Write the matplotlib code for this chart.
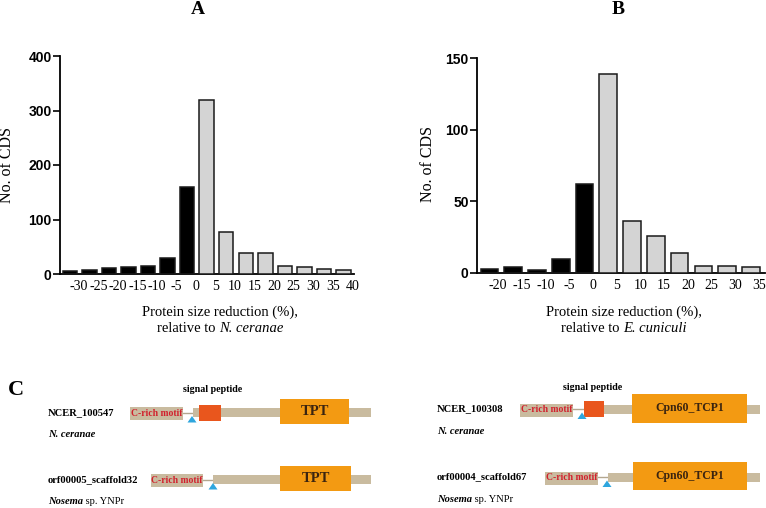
import numpy as np
import matplotlib.pyplot as plt
from matplotlib.patches import Rectangle, Polygon

plt.rcParams['font.family'] = 'Liberation Serif'

# panel A : relative to N. ceranae
labels_a = ['-30', '-25', '-20', '-15', '-10', '-5', '0', '5', '10', '15', '20', '25', '30', '35', '40']
counts_a = [6, 7, 11, 13, 14, 30, 159, 319, 77, 38, 39, 14, 12, 10, 7]
n_black_a = 7

# panel B : relative to E. cuniculi
labels_b = ['-20', '-15', '-10', '-5', '0', '5', '10', '15', '20', '25', '30', '35']
counts_b = [3, 4, 2, 10, 62, 139, 36, 26, 14, 5, 5, 4]
n_black_b = 5

# panel C : protein schematics
prot_ids = ['NCER_100547', 'orf00005_scaffold32', 'NCER_100308', 'orf00004_scaffold67']
prot_species = ['N. ceranae', 'Nosema', 'N. ceranae', 'Nosema']
prot_domain = ['TPT', 'TPT', 'Cpn60_TCP1', 'Cpn60_TCP1']
prot_signal = [True, False, True, False]

W, H = 766, 508
fig = plt.figure(figsize=(W / 100, H / 100), dpi=100)
renderer = fig.canvas.get_renderer()

GRAY = '#d4d4d4'


def px_axes(x0, x1, y_top, y_bot):
    return fig.add_axes([x0 / W, 1 - y_bot / H, (x1 - x0) / W, (y_bot - y_top) / H])


def bar_panel(ax, labels, counts, n_black, xlim, ymax, yticks, off):
    n = len(counts)
    x = np.arange(n)
    colors = ['black'] * n_black + [GRAY] * (n - n_black)
    ax.bar(x, counts, width=0.74, color=colors, edgecolor='#1a1a1a', linewidth=1.1, zorder=3)
    ax.set_xlim(*xlim)
    ax.set_ylim(0, ymax)
    ax.set_yticks(yticks)
    ax.set_xticks(x + off)
    ax.set_xticklabels(labels, fontsize=10)
    for s in ['top', 'right']:
        ax.spines[s].set_visible(False)
    for s in ['left', 'bottom']:
        ax.spines[s].set_linewidth(1.3)
    ax.tick_params(axis='x', length=0, pad=4)
    ax.tick_params(axis='y', length=5, width=1.2, pad=1)
    for t in ax.get_yticklabels():
        t.set_fontfamily('Liberation Sans')
        t.set_fontweight('bold')
        t.set_fontsize(10)
    ax.patch.set_alpha(0)


ax_a = px_axes(60, 354, 56, 274)
bar_panel(ax_a, labels_a, counts_a, n_black_a, (-0.51, 14.54), 400, [0, 100, 200, 300, 400], 0.45)

ax_b = px_axes(477, 765, 58, 273)
bar_panel(ax_b, labels_b, counts_b, n_black_b, (-0.52, 11.59), 150, [0, 50, 100, 150], 0.35)

# overlay in pixel coordinates for texts and panel C
ov = fig.add_axes([0, 0, 1, 1])
ov.set_xlim(0, W)
ov.set_ylim(H, 0)
ov.axis('off')
ov.patch.set_alpha(0)


def text_run(x, y, pieces, fontsize, ha='left'):
    # pieces: list of (string, weight, style), drawn one after the other
    widths = []
    for s, wgt, sty in pieces:
        t = ov.text(0, 0, s, fontsize=fontsize, fontweight=wgt, fontstyle=sty)
        widths.append(t.get_window_extent(renderer=renderer).width)
        t.remove()
    total = sum(widths)
    cx = x - total / 2 if ha == 'center' else x
    for (s, wgt, sty), w in zip(pieces, widths):
        ov.text(cx, y, s, ha='left', va='center', fontsize=fontsize, fontweight=wgt, fontstyle=sty)
        cx += w


ov.text(198, 10, 'A', ha='center', va='center', fontsize=14, fontweight='bold')
ov.text(618, 10, 'B', ha='center', va='center', fontsize=14, fontweight='bold')

ov.text(7, 165, 'No. of CDS', rotation=90, ha='center', va='center', fontsize=11.5)
ov.text(428, 164, 'No. of CDS', rotation=90, ha='center', va='center', fontsize=11.5)

ov.text(220, 312, 'Protein size reduction (%),', ha='center', va='center', fontsize=10.5)
text_run(220, 329, [('relative to ', 'normal', 'normal'), ('N. ceranae', 'normal', 'italic')], 10.5, ha='center')
ov.text(624, 312, 'Protein size reduction (%),', ha='center', va='center', fontsize=10.5)
text_run(624, 329, [('relative to ', 'normal', 'normal'), ('E. cuniculi', 'normal', 'italic')], 10.5, ha='center')

ov.text(16, 390, 'C', ha='center', va='center', fontsize=16, fontweight='bold')
ov.text(213, 390, 'signal peptide', ha='center', va='center', fontsize=7.2, fontweight='bold')
ov.text(593, 388, 'signal peptide', ha='center', va='center', fontsize=7.2, fontweight='bold')

TAN = '#c9bb9f'
ORANGE = '#f39a12'
RED_BOX = '#e9561d'
BLUE = '#2ea6de'
MOTIF_RED = '#d1202c'

# layout of the schematics (pixels)
row_y = [412.5, 479.5, 409, 477]
label_x = [48, 48, 437, 437]
motif_x = [(130, 183), (151, 203), (520, 573), (545, 598)]
bar_x = [(193, 371), (213, 371), (585, 760), (608, 760)]
sig_x = [(199, 221), None, (584, 604), None]
dom_x = [(280, 349), (280, 351), (632, 747), (633, 747)]
dom_h = [25, 25, 29, 28]
dom_fs = [10.5, 10.5, 8.5, 8.5]
tri_x = [192, 213, 582, 607]

for i in range(4):
    yc = row_y[i]
    # labels
    ov.text(label_x[i], yc, prot_ids[i], ha='left', va='center', fontsize=7.6, fontweight='bold')
    if prot_species[i] == 'Nosema':
        text_run(label_x[i], yc + 22, [('Nosema', 'bold', 'italic'), (' sp. YNPr', 'normal', 'normal')], 7.6)
    else:
        text_run(label_x[i], yc + 22, [(prot_species[i], 'bold', 'italic')], 7.6)

    # backbone and connector
    m0, m1 = motif_x[i]
    b0, b1 = bar_x[i]
    ov.plot([m1, b0], [yc, yc], color='#b3a78f', lw=1, zorder=2)
    ov.add_patch(Rectangle((b0, yc - 4.5), b1 - b0, 9, color=TAN, lw=0, zorder=2))
    ov.add_patch(Rectangle((m0, yc - 5.5), m1 - m0, 13, color=TAN, lw=0, zorder=2))
    ov.text((m0 + m1) / 2, yc + 1, 'C-rich motif', ha='center', va='center', fontsize=6.9,
            fontweight='bold', color=MOTIF_RED, zorder=4)

    if prot_signal[i]:
        s0, s1 = sig_x[i]
        ov.add_patch(Rectangle((s0, yc - 8), s1 - s0, 16, color=RED_BOX, lw=0, zorder=3))

    d0, d1 = dom_x[i]
    h = dom_h[i]
    ov.add_patch(Rectangle((d0, yc - h / 2 - 1), d1 - d0, h, color=ORANGE, lw=0, zorder=3))
    ov.text((d0 + d1) / 2, yc - 1, prot_domain[i], ha='center', va='center', fontsize=dom_fs[i],
            fontweight='bold', color='#3a2410', zorder=4)

    tx = tri_x[i]
    ov.add_patch(Polygon([[tx - 4.5, yc + 10], [tx + 4.5, yc + 10], [tx, yc + 3.5]],
                         closed=True, color=BLUE, lw=0, zorder=5))

fig.savefig('out.png', dpi=100)
